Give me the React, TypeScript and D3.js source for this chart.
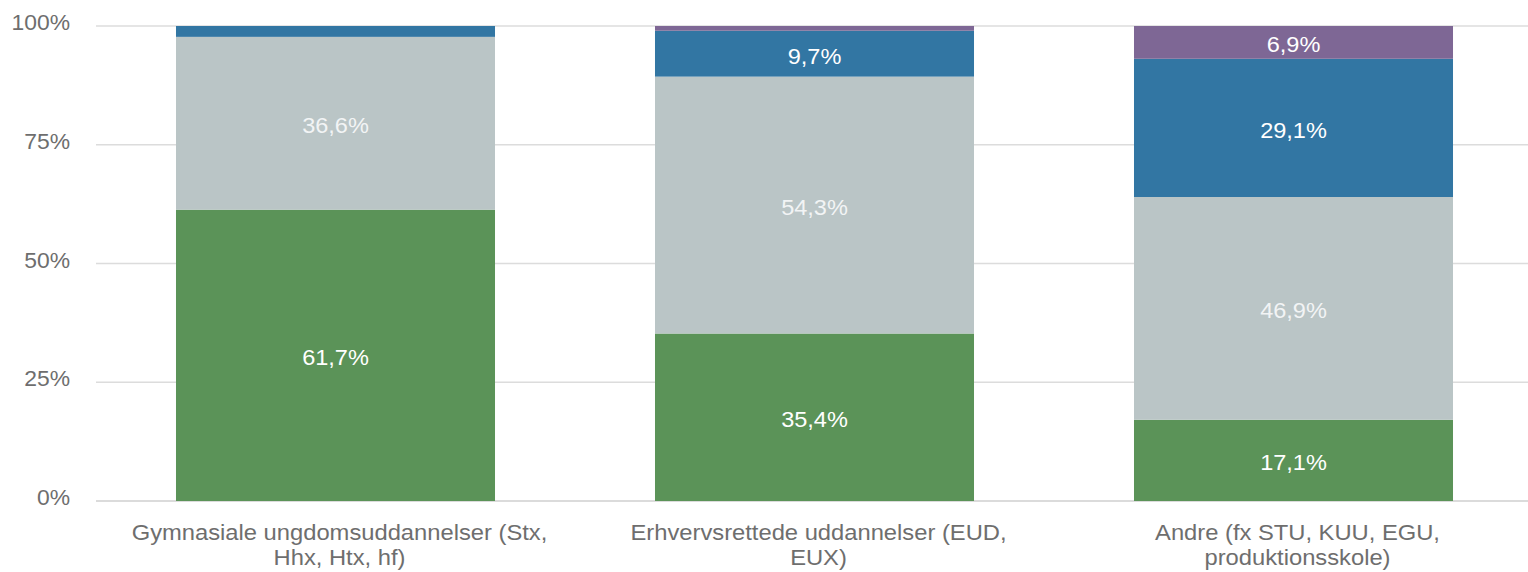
import React from 'react';
import * as d3 from 'd3';

const categories = [
  ['Gymnasiale ungdomsuddannelser (Stx,', 'Hhx, Htx, hf)'],
  ['Erhvervsrettede uddannelser (EUD,', 'EUX)'],
  ['Andre (fx STU, KUU, EGU,', 'produktionsskole)'],
];
const seriesNames = ['green', 'gray', 'blue', 'purple'];
const greenValues = [61.7, 35.4, 17.1];
const grayValues = [36.6, 54.3, 46.9];
const blueValues = [2.3, 9.7, 29.1];
const purpleValues = [0, 1.0, 6.9];
const tickValues = [0, 0.25, 0.5, 0.75, 1];

const colors: Record<string, string> = {
  green: '#5b9358',
  gray: '#bac5c6',
  blue: '#3276a3',
  purple: '#7e6795',
};
const labelColors: Record<string, string> = {
  green: '#ffffff',
  gray: '#f2f4f5',
  blue: '#ffffff',
  purple: '#ffffff',
};

const W = 1528;
const H = 572;
const font = '"Liberation Sans", Arial, sans-serif';
const axisColor = '#6e6e6e';

export default function App() {
  const rows = categories.map((c, i) => ({
    idx: i,
    green: greenValues[i],
    gray: grayValues[i],
    blue: blueValues[i],
    purple: purpleValues[i],
  }));
  const raw: Record<string, number[]> = {
    green: greenValues,
    gray: grayValues,
    blue: blueValues,
    purple: purpleValues,
  };
  // 100% stacked
  const stacked = d3.stack<any>().keys(seriesNames).offset(d3.stackOffsetExpand)(rows);

  const x = d3
    .scaleBand<number>()
    .domain(categories.map((_, i) => i))
    .range([96, 1533])
    .paddingInner(0.334)
    .paddingOuter(0.167);
  const y = d3.scaleLinear().domain([0, 1]).range([501, 26]);
  const fmt = (v: number) => v.toFixed(1).replace('.', ',') + '%';
  const cx = (i: number) => (x(i) as number) + x.bandwidth() / 2;

  return (
    <svg
      width={W}
      height={H}
      style={{ position: 'absolute', left: 0, top: 0, display: 'block', background: '#fff' }}
      fontFamily={font}
    >
      {/* grid + y ticks */}
      {tickValues.map(t => (
        <g key={t}>
          <line x1={96} x2={W} y1={y(t)} y2={y(t)} stroke={t === 0 ? '#cfcfcf' : '#dcdcdc'} strokeWidth={1.5} />
          <g transform={`translate(70,${y(t) + 4}) scale(1.04,1)`}>
            <text textAnchor="end" fontSize={22} fill={axisColor}>
              {Math.round(t * 100)}%
            </text>
          </g>
        </g>
      ))}

      {/* bars */}
      {stacked.map(layer => (
        <g key={layer.key} fill={colors[layer.key]}>
          {layer.map((d, i) =>
            d[1] - d[0] > 0 ? (
              <rect
                key={i}
                x={x(i)}
                y={y(d[1])}
                width={x.bandwidth()}
                height={y(d[0]) - y(d[1])}
              />
            ) : null
          )}
        </g>
      ))}

      {/* segment labels */}
      {stacked.map(layer =>
        layer.map((d, i) => {
          const v = raw[layer.key][i];
          if (v < 5) return null;
          return (
            <g key={layer.key + i} transform={`translate(${cx(i)},${y((d[0] + d[1]) / 2) + 10}) scale(1.07,1)`}>
              <text textAnchor="middle" fontSize={22} fill={labelColors[layer.key]}>
                {fmt(v)}
              </text>
            </g>
          );
        })
      )}

      {/* x labels */}
      {categories.map((lines, i) => (
        <g key={i} transform={`translate(${cx(i) + 4},540) scale(1.08,1)`}>
          <text textAnchor="middle" fontSize={22} fill={axisColor}>
            {lines.map((l, j) => (
              <tspan key={j} x={0} dy={j === 0 ? 0 : 25}>
                {l}
              </tspan>
            ))}
          </text>
        </g>
      ))}
    </svg>
  );
}
